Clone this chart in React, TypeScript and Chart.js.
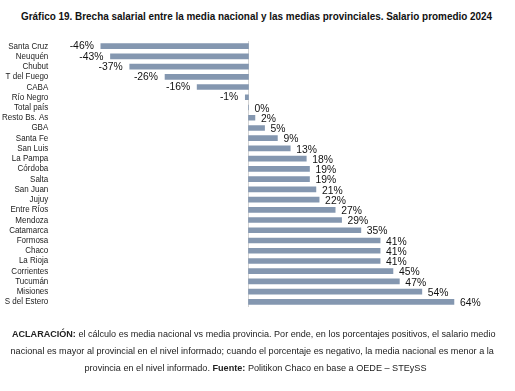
import React, { useEffect, useLayoutEffect, useRef } from "react";
import { Chart, registerables } from "chart.js";

Chart.register(...registerables);

const categories = [
  "Santa Cruz", "Neuquén", "Chubut", "T del Fuego", "CABA", "Río Negro", "Total país",
  "Resto Bs. As", "GBA", "Santa Fe", "San Luis", "La Pampa", "Córdoba", "Salta",
  "San Juan", "Jujuy", "Entre Ríos", "Mendoza", "Catamarca", "Formosa", "Chaco",
  "La Rioja", "Corrientes", "Tucumán", "Misiones", "S del Estero",
];
const values = [
  -46, -43, -37, -26, -16, -1, 0, 2, 5, 9, 13, 18, 19, 19, 21, 22, 27, 29, 35, 41, 41, 41, 45, 47, 54, 64,
];

const SANS = '"Liberation Sans", Arial, sans-serif';

function condensedText(ctx: any, txt: string, x: number, y: number, sx: number, align: string) {
  ctx.save();
  ctx.translate(x, y);
  ctx.scale(sx, 1);
  ctx.textAlign = align;
  ctx.fillText(txt, 0, 0);
  ctx.restore();
}

const valueLabels = {
  id: "valueLabels",
  afterDatasetsDraw(chart: any) {
    const ctx = chart.ctx;
    const meta = chart.getDatasetMeta(0);
    ctx.save();
    ctx.font = `11.5px ${SANS}`;
    ctx.fillStyle = "#111";
    ctx.textBaseline = "middle";
    meta.data.forEach((el: any, i: number) => {
      const v = values[i];
      const txt = `${v}%`;
      if (v < 0) condensedText(ctx, txt, el.x - 7, el.y, 0.9, "right");
      else condensedText(ctx, txt, el.x + 6, el.y + 1, 0.9, "left");
    });
    ctx.restore();
  },
};

const categoryLabels = {
  id: "categoryLabels",
  afterDraw(chart: any) {
    const ctx = chart.ctx;
    const y = chart.scales.y;
    ctx.save();
    ctx.font = `9px ${SANS}`;
    ctx.fillStyle = "#222";
    ctx.textBaseline = "middle";
    categories.forEach((c, i) => {
      condensedText(ctx, c, 48.3, y.getPixelForValue(i), 0.89, "right");
    });
    ctx.restore();
  },
};

const zeroLine = {
  id: "zeroLine",
  beforeDatasetsDraw(chart: any) {
    const ctx = chart.ctx;
    const x = Math.round(chart.scales.x.getPixelForValue(0)) - 0.5;
    const { top, bottom } = chart.chartArea;
    ctx.save();
    ctx.strokeStyle = "#d4d4d4";
    ctx.lineWidth = 1;
    ctx.beginPath();
    ctx.moveTo(x, top);
    ctx.lineTo(x, bottom);
    ctx.stroke();
    ctx.restore();
  },
};

function FitLine({ width, children, style }: { width: number; children: any; style: any }) {
  const ref = useRef<HTMLSpanElement>(null);
  useLayoutEffect(() => {
    const el = ref.current;
    if (!el) return;
    el.style.transform = "none";
    const w = el.offsetWidth;
    if (w > 0) el.style.transform = `scaleX(${width / w})`;
  }, [width]);
  return (
    <span ref={ref} style={{ display: "inline-block", whiteSpace: "nowrap", ...style }}>
      {children}
    </span>
  );
}

export default function App() {
  const ref = useRef<HTMLCanvasElement>(null);
  useEffect(() => {
    if (!ref.current) return;
    const chart = new Chart(ref.current, {
      type: "bar",
      data: {
        labels: categories,
        datasets: [
          {
            data: values,
            backgroundColor: "#8497b0",
            barThickness: 5,
            borderWidth: 0,
          },
        ],
      },
      options: {
        indexAxis: "y",
        animation: false,
        responsive: true,
        maintainAspectRatio: false,
        layout: { padding: { top: 41, bottom: 84, left: 0, right: 25.75 } },
        plugins: { legend: { display: false }, tooltip: { enabled: false }, title: { display: false } },
        scales: {
          x: { display: false, min: -60, max: 75 },
          y: {
            afterFit(scale: any) {
              scale.width = 55.9;
            },
            grid: { display: false, drawTicks: false },
            border: { display: false },
            ticks: { display: false, autoSkip: false },
          },
        },
      },
      plugins: [zeroLine, valueLabels, categoryLabels],
    });
    return () => chart.destroy();
  }, []);

  const noteStyle = { fontFamily: SANS, fontSize: 9.5, color: "#222", transformOrigin: "center" };
  const lineBox = (top: number) => ({
    position: "absolute" as const,
    left: 0,
    top,
    width: 503,
    textAlign: "center" as const,
    lineHeight: "17px",
  });

  return (
    <div style={{ position: "absolute", left: 0, top: 0, width: 515, height: 391, background: "#fff" }}>
      <div style={{ position: "absolute", left: 20.5, top: 8, lineHeight: "14px" }}>
        <FitLine
          width={471}
          style={{ fontFamily: SANS, fontWeight: "bold", fontSize: 11, color: "#111", transformOrigin: "left" }}
        >
          Gráfico 19. Brecha salarial entre la media nacional y las medias provinciales. Salario promedio 2024
        </FitLine>
      </div>
      <div style={{ position: "absolute", left: 0, top: 0, width: 515, height: 391 }}>
        <canvas ref={ref} />
      </div>
      <div style={lineBox(323)}>
        <FitLine width={483} style={noteStyle}>
          <b>ACLARACIÓN:</b> el cálculo es media nacional vs media provincia. Por ende, en los porcentajes positivos, el salario medio
        </FitLine>
      </div>
      <div style={lineBox(340)}>
        <FitLine width={483} style={noteStyle}>
          nacional es mayor al provincial en el nivel informado; cuando el porcentaje es negativo, la media nacional es menor a la
        </FitLine>
      </div>
      <div style={{ ...lineBox(357), width: 511 }}>
        <FitLine width={342} style={noteStyle}>
          provincia en el nivel informado. <b>Fuente:</b> Politikon Chaco en base a OEDE – STEySS
        </FitLine>
      </div>
    </div>
  );
}
